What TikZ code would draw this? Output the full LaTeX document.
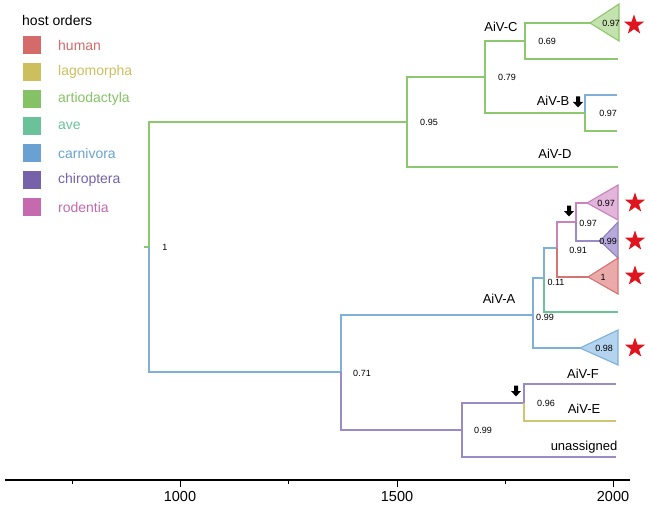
\documentclass[tikz,border=0pt]{standalone}
\usepackage{fontspec}
\setmainfont{Liberation Sans}
\usetikzlibrary{shapes.geometric}
\definecolor{cHum}{HTML}{D46A6A}
\definecolor{cLag}{HTML}{CDBF5E}
\definecolor{cArt}{HTML}{85C265}
\definecolor{cAve}{HTML}{6AC29A}
\definecolor{cCar}{HTML}{69A2D2}
\definecolor{cChi}{HTML}{7661AB}
\definecolor{cRod}{HTML}{C56AAE}
\definecolor{lGre}{HTML}{8CC86E}
\definecolor{lBlu}{HTML}{7EB0D9}
\definecolor{lPur}{HTML}{9A8AC6}
\definecolor{lRod}{HTML}{C883BA}
\definecolor{lRed}{HTML}{D67373}
\definecolor{lYel}{HTML}{D1C473}
\definecolor{lAve}{HTML}{6CC39A}
\definecolor{fArt}{HTML}{C4E2AE}
\definecolor{fRod}{HTML}{E2B5DB}
\definecolor{fChi}{HTML}{B7AADB}
\definecolor{fHum}{HTML}{EBAAAA}
\definecolor{fCar}{HTML}{B3D3EE}
\definecolor{starred}{HTML}{E0141E}
\tikzset{
  br/.style={line width=1.1pt},
  sup/.style={font=\fontsize{9}{10}\selectfont, inner sep=0pt},
  clade/.style={font=\fontsize{13}{15}\selectfont, inner sep=0pt},
  legtxt/.style={font=\fontsize{14}{16}\selectfont, anchor=west, inner sep=0pt},
  legsq/.style={minimum size=18pt, inner sep=0pt, draw=none},
  redstar/.style={star, star points=5, star point ratio=2.5, fill=starred, draw=none, minimum size=21pt, inner sep=0pt},
  axlab/.style={font=\fontsize{14.5}{16}\selectfont, inner sep=0pt},
  darr/.pic={\fill[black] (-2,-5.5)--(2,-5.5)--(2,0)--(5,0)--(0,5.5)--(-5,0)--(-2,0)--cycle;}
}
\begin{document}
\begin{tikzpicture}[x=1pt,y=-1pt]
\useasboundingbox (0,0) rectangle (650,508);
% legend
\node[legtxt] (legtitle) at (22,20) {host orders};
\foreach \c/\t/\yy [count=\i] in {cHum/human/45,cLag/lagomorpha/72,cArt/artiodactyla/99,cAve/ave/126,cCar/carnivora/153,cChi/chiroptera/180,cRod/rodentia/207}{
  \node[legsq, fill=\c] (sq\i) at (32,\yy) {};
  \node[legtxt, text=\c] (lt\i) at (58,\yy) {\t};
}
% tree coordinates
\coordinate (S) at (144,247);
\coordinate (R) at (149,247);
\coordinate (N95) at (407,122);
\coordinate (N79) at (485,77);
\coordinate (D) at (618,167);
\coordinate (N69) at (525,41);
\coordinate (NB) at (585,113);
\coordinate (Ctri) at (590,23);
\coordinate (Cleaf) at (618,59);
\coordinate (Bb) at (617,95);
\coordinate (Bg) at (617,131);
\coordinate (N71) at (341,372);
\coordinate (NA) at (533,315);
\coordinate (N99b) at (462,430);
\coordinate (N99) at (544,278);
\coordinate (Ftri) at (580,348);
\coordinate (N11) at (557,248);
\coordinate (Ave) at (618,312);
\coordinate (N97) at (576,222);
\coordinate (Htri) at (588,277);
\coordinate (Rtri) at (587,203);
\coordinate (Chtri) at (600,241);
\coordinate (N96) at (524,403);
\coordinate (U) at (616,457);
\coordinate (F) at (616,384);
\coordinate (E) at (616,421);
% branches
\draw[br, lGre] (S) -- (R);
\draw[br, lGre] (R) |- (N95);
\draw[br, lGre] (N95) |- (N79);
\draw[br, lGre] (N95) |- (D);
\draw[br, lGre] (N79) |- (N69);
\draw[br, lGre] (N79) |- (NB);
\draw[br, lGre] (N69) |- (Ctri);
\draw[br, lGre] (N69) |- (Cleaf);
\draw[br, lBlu] (NB) |- (Bb);
\draw[br, lGre] (NB) |- (Bg);
\draw[br, lBlu] (R) |- (N71);
\draw[br, lBlu] (N71) |- (NA);
\draw[br, lPur] (N71) |- (N99b);
\draw[br, lBlu] (NA) |- (N99);
\draw[br, lBlu] (NA) |- (Ftri);
\draw[br, lBlu] (N99) |- (N11);
\draw[br, lAve] (N99) |- (Ave);
\draw[br, lRod] (N11) |- (N97);
\draw[br, lRed] (N11) |- (Htri);
\draw[br, lRod] (N97) |- (Rtri);
\draw[br, lPur] (N97) |- (Chtri);
\draw[br, lPur] (N99b) |- (N96);
\draw[br, lPur] (N99b) |- (U);
\draw[br, lPur] (N96) |- (F);
\draw[br, lYel] (N96) |- (E);
% collapsed clades
\filldraw[br, draw=lGre, fill=fArt] (Ctri) -- ++(29,-19) -- ++(0,37) -- cycle;
\filldraw[br, draw=lRod, fill=fRod] (Rtri) -- ++(31,-18) -- ++(0,35) -- cycle;
\filldraw[br, draw=cChi!80, fill=fChi] (Chtri) -- ++(18,-19) -- ++(0,36) -- cycle;
\filldraw[br, draw=lRed, fill=fHum] (Htri) -- ++(30,-19) -- ++(0,36) -- cycle;
\filldraw[br, draw=lBlu, fill=fCar] (Ftri) -- ++(38,-18) -- ++(0,35) -- cycle;
% support values
\node[sup] (s1) at (165,247) {1};
\node[sup] (s95) at (429,122) {0.95};
\node[sup] (s79) at (507,77) {0.79};
\node[sup] (s69) at (547,41) {0.69};
\node[sup] (sC) at (611,23) {0.97};
\node[sup] (sB) at (608,113) {0.97};
\node[sup] (sR) at (606,203) {0.97};
\node[sup] (s97) at (588,223) {0.97};
\node[sup] (sCh) at (608,241) {0.99};
\node[sup] (s91) at (578,250) {0.91};
\node[sup] (sH) at (603,277) {1};
\node[sup] (s11) at (556,282) {0.11};
\node[sup] (s99) at (545,317) {0.99};
\node[sup] (sF) at (604,348) {0.98};
\node[sup] (s71) at (362,373) {0.71};
\node[sup] (s96) at (546,403) {0.96};
\node[sup] (s99b) at (483,430) {0.99};
% clade labels
\node[clade] (lC) at (501,27) {AiV-C};
\node[clade] (lB) at (553,101) {AiV-B};
\node[clade] (lD) at (555,154) {AiV-D};
\node[clade] (lA) at (499,299) {AiV-A};
\node[clade] (lF) at (583,374) {AiV-F};
\node[clade] (lE) at (584,409) {AiV-E};
\node[clade] (lU) at (584,447) {unassigned};
% arrows
\pic at (578,102) {darr};
\pic at (569,211) {darr};
\pic at (516,391) {darr};
% stars
\node[redstar] (st1) at (634,25) {};
\node[redstar] (st2) at (635,203) {};
\node[redstar] (st3) at (635,241) {};
\node[redstar] (st4) at (635,276) {};
\node[redstar] (st5) at (635,348) {};
% axis
\coordinate (ax0) at (5,480);
\coordinate (ax1) at (630,480);
\draw[line width=1.2pt] (ax0) -- (ax1);
\foreach \v/\xx in {1000/180,1500/397,2000/613}{
  \draw[line width=1pt] (\xx,480) -- (\xx,487);
  \node[axlab] (ax\v) at (\xx,497) {\v};
}
\foreach \xx in {72,288,505}{
  \draw[line width=0.8pt] (\xx,480) -- (\xx,484);
}
\end{tikzpicture}
\end{document}
